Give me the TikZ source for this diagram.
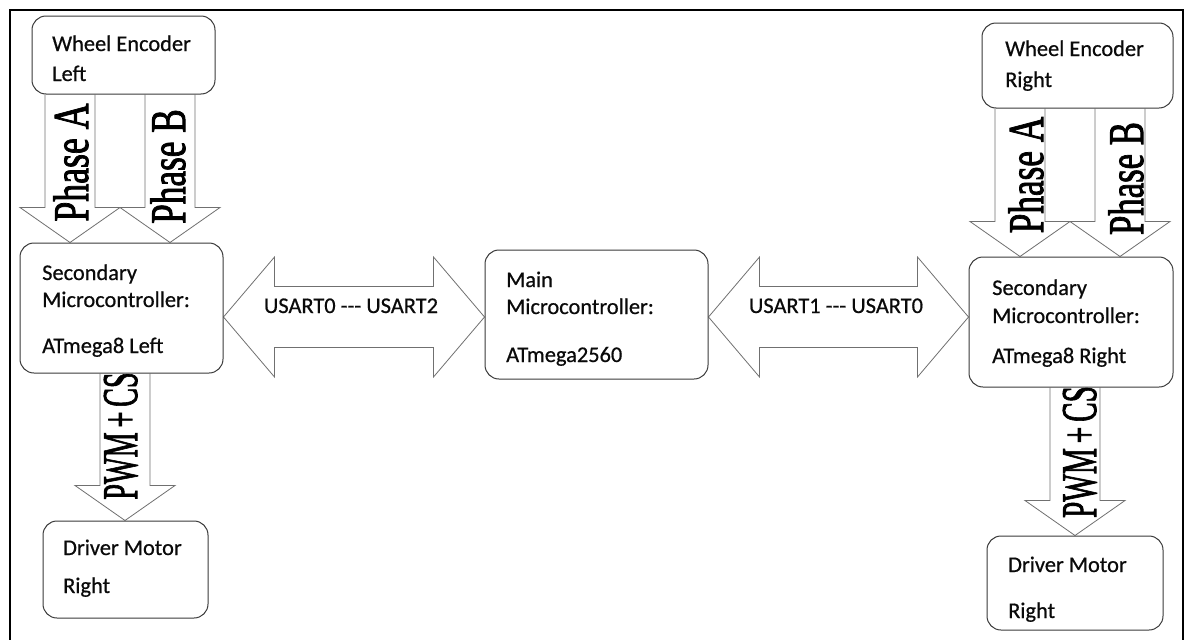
\documentclass[tikz,border=0pt]{standalone}
\usepackage{fontspec}
\setmainfont{Carlito}
\newfontfamily\boxfont{Carlito}[FakeBold=0.6]
\newfontfamily\arrowfont{Liberation Serif}[FakeBold=2]
\usetikzlibrary{calc,backgrounds}
\definecolor{boxline}{HTML}{3A3A3A}
\definecolor{arrline}{HTML}{707070}
\definecolor{txtcol}{HTML}{0A0A0A}
\begin{document}
\begin{tikzpicture}[x=1pt,y=-1pt,
  box/.style={draw=boxline, line width=1pt, rounded corners=14pt, fill=white, inner sep=0pt},
  txt/.style={anchor=base west, inner sep=0pt, text=txtcol, font=\boxfont\fontsize{22.4}{27}\selectfont},
  atxt/.style={anchor=base, inner sep=0pt, rotate=90, text=black, font=\arrowfont\fontsize{50}{52}\selectfont},
  downarrow/.style={draw=arrline, fill=white, line width=0.8pt, line join=miter,
    to path={let \p1=(\tikztostart), \p2=(\tikztotarget) in
      (\x1-25pt,\y1) -- (\x1-25pt,\y2+35pt) -- (\x1-50pt,\y2+35pt) -- (\x2,\y2)
      -- (\x1+50pt,\y2+35pt) -- (\x1+25pt,\y2+35pt) -- (\x1+25pt,\y1)}},
  dblarrow/.style={draw=arrline, fill=white, line width=0.8pt, line join=miter,
    to path={let \p1=(\tikztostart), \p2=(\tikztotarget) in
      (\x1,\y1) -- (\x1+51pt,\y1+60pt) -- (\x1+51pt,\y1+30.5pt) -- (\x2-51pt,\y1+30.5pt)
      -- (\x2-51pt,\y1+60pt) -- (\x2,\y2) -- (\x2-51pt,\y1-60pt) -- (\x2-51pt,\y1-30.5pt)
      -- (\x1+51pt,\y1-30.5pt) -- (\x1+51pt,\y1-60pt) -- cycle}}
]
\useasboundingbox (0,0) rectangle (1189,640);

% outer frame
\draw[line width=2.6pt, black] (10,640) -- (10,10) -- (1183,10) -- (1183,640);

% boxes
\node[box, minimum width=183pt, minimum height=78pt] (encL) at (123.5,55) {};
\node[box, minimum width=203pt, minimum height=130pt] (secL) at (121.5,308) {};
\node[box, minimum width=165pt, minimum height=97pt] (drvL) at (125.5,569.5) {};
\node[box, minimum width=223pt, minimum height=129pt] (main) at (596.5,314.5) {};
\node[box, minimum width=191pt, minimum height=85pt] (encR) at (1077.5,65.5) {};
\node[box, minimum width=204pt, minimum height=130pt] (secR) at (1071,322) {};
\node[box, minimum width=176pt, minimum height=94pt] (drvR) at (1075,583) {};

% box texts
\node[txt] (encLa) at (52,51) {Wheel Encoder};
\node[txt] (encLb) at (52,81) {Left};
\node[txt] (secLa) at (42,280) {Secondary};
\node[txt] (secLb) at (42,307) {Microcontroller:};
\node[txt] (secLc) at (42,353) {ATmega8 Left};
\node[txt] (drvLa) at (63,555) {Driver Motor};
\node[txt] (drvLb) at (63,593) {Right};
\node[txt] (maina) at (506,287) {Main};
\node[txt] (mainb) at (506,314) {Microcontroller:};
\node[txt] (mainc) at (506,362) {ATmega2560};
\node[txt] (encRa) at (1005,56) {Wheel Encoder};
\node[txt] (encRb) at (1005,87) {Right};
\node[txt] (secRa) at (992,295) {Secondary};
\node[txt] (secRb) at (992,323) {Microcontroller:};
\node[txt] (secRc) at (992,363) {ATmega8 Right};
\node[txt] (drvRa) at (1008,572) {Driver Motor};
\node[txt] (drvRb) at (1008,618) {Right};

% helper coordinates for arrow axes
\coordinate (xLA) at (70,0);
\coordinate (xLB) at (170,0);
\coordinate (xLP) at (125,0);
\coordinate (xRA) at (1020,0);
\coordinate (xRB) at (1120,0);
\coordinate (xRP) at (1075,0);
\coordinate (yU) at (0,317);

\begin{scope}[on background layer]
\draw[downarrow] (encL.south -| xLA) to (secL.north -| xLA);
\draw[downarrow] (encL.south -| xLB) to (secL.north -| xLB);
\draw[downarrow] (secL.south -| xLP) to (drvL.north -| xLP);
\draw[downarrow] (encR.south -| xRA) to (secR.north -| xRA);
\draw[downarrow] (encR.south -| xRB) to (secR.north -| xRB);
\draw[downarrow] (secR.south -| xRP) to (drvR.north -| xRP);
\draw[dblarrow] (secL.east |- yU) to (main.west |- yU);
\draw[dblarrow] (main.east |- yU) to (secR.west |- yU);

\node[atxt] (tLA) at (88,162.5) {\scalebox{0.715}[1]{Phase A}};
\node[atxt] (tLB) at (185,166.5) {\scalebox{0.705}[1]{Phase B}};
\node[atxt] (tLP) at (137,436) {\scalebox{0.565}[1]{PWM\,+\,CS}};
\node[atxt] (tRA) at (1043,175) {\scalebox{0.705}[1]{Phase A}};
\node[atxt] (tRB) at (1143,178.5) {\scalebox{0.695}[1]{Phase B}};
\node[atxt] (tRP) at (1096,452) {\scalebox{0.585}[1]{PWM\,+\,CS}};
\end{scope}

\node[txt, anchor=base] (u1) at (351,313) {USART0 -{}-{}- USART2};
\node[txt, anchor=base] (u2) at (836,313) {USART1 -{}-{}- USART0};
\end{tikzpicture}
\end{document}
